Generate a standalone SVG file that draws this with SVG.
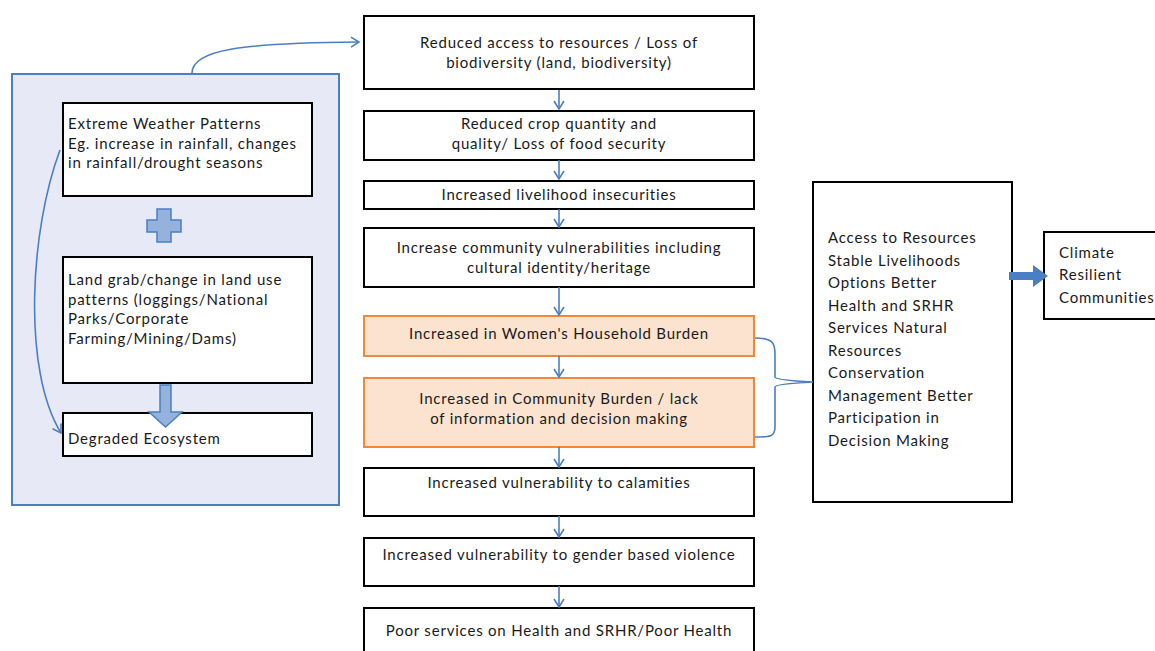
<svg xmlns="http://www.w3.org/2000/svg" width="1155" height="651" viewBox="0 0 1155 651">
<style>
.box{fill:#fff;stroke:#000;stroke-width:2}
.obox{fill:#fce3cf;stroke:#f0883a;stroke-width:2}
.t{font-family:Lato,"Noto Sans",sans-serif;font-size:15px;letter-spacing:0.8px;fill:#1a1a1a}
.c{text-anchor:middle}
.ln{fill:none;stroke:#4a7fc4;stroke-width:1.6}
.blk{fill:#95b1dc;stroke:#4a7fc4;stroke-width:1.5}
</style>
<defs>
<marker id="ah" markerWidth="12" markerHeight="12" refX="10" refY="6" orient="auto" markerUnits="userSpaceOnUse">
<path d="M2,1 L10,6 L2,11" fill="none" stroke="#4a7fc4" stroke-width="1.6"/>
</marker>
</defs>
<rect x="0" y="0" width="1155" height="651" fill="#fff"/>

<g id="container">
<rect x="12" y="74" width="327" height="431" fill="#e7e9f6" stroke="#4a7fc4" stroke-width="2"/>
</g>
<g id="n-weather">
<rect class="box" x="63" y="103" width="249" height="93"/>
<text class="t" x="68" y="129">Extreme Weather Patterns</text>
<text class="t" x="68" y="148.5">Eg. increase in rainfall, changes</text>
<text class="t" x="68" y="168">in rainfall/drought seasons</text>
</g>
<g id="plus">
<path class="blk" d="M157,209 H171 V220 H181 V232 H171 V242 H157 V232 H147 V220 H157 Z"/>
</g>
<g id="n-landgrab">
<rect class="box" x="63" y="257" width="249" height="126"/>
<text class="t" x="68" y="285">Land grab/change in land use</text>
<text class="t" x="68" y="304.5">patterns (loggings/National</text>
<text class="t" x="68" y="324">Parks/Corporate</text>
<text class="t" x="68" y="343.5">Farming/Mining/Dams)</text>
</g>
<g id="n-degraded">
<rect class="box" x="63" y="413" width="249" height="43"/>
<text class="t" x="68" y="444">Degraded Ecosystem</text>
</g>
<g id="blockarrow-down">
<path class="blk" d="M160,385 H171 V412 H182 L165.5,427 L149,412 H160 Z"/>
</g>

<g id="n1"><rect class="box" x="364" y="16" width="390" height="73"/>
<text class="t c" x="559" y="48">Reduced access to resources / Loss of</text>
<text class="t c" x="559" y="68">biodiversity (land, biodiversity)</text></g>
<g id="n2"><rect class="box" x="364" y="111" width="390" height="49"/>
<text class="t c" x="559" y="128.5">Reduced crop quantity and</text>
<text class="t c" x="559" y="149">quality/ Loss of food security</text></g>
<g id="n3"><rect class="box" x="364" y="181" width="390" height="28"/>
<text class="t c" x="559" y="199.5">Increased livelihood insecurities</text></g>
<g id="n4"><rect class="box" x="364" y="228" width="390" height="59"/>
<text class="t c" x="559" y="252.5">Increase community vulnerabilities including</text>
<text class="t c" x="559" y="272.5">cultural identity/heritage</text></g>
<g id="n5"><rect class="obox" x="364" y="316" width="390" height="40"/>
<text class="t c" x="559" y="338.5">Increased in Women's Household Burden</text></g>
<g id="n6"><rect class="obox" x="364" y="378" width="390" height="69"/>
<text class="t c" x="559" y="403.5">Increased in Community Burden / lack</text>
<text class="t c" x="559" y="423.5">of information and decision making</text></g>
<g id="n7"><rect class="box" x="364" y="468" width="390" height="48"/>
<text class="t c" x="559" y="487.5">Increased vulnerability to calamities</text></g>
<g id="n8"><rect class="box" x="364" y="538" width="390" height="48"/>
<text class="t c" x="559" y="560">Increased vulnerability to gender based violence</text></g>
<g id="n9"><rect class="box" x="364" y="608" width="390" height="50"/>
<text class="t c" x="559" y="635.5">Poor services on Health and SRHR/Poor Health</text></g>

<g id="n-outcomes"><rect class="box" x="813" y="182" width="199" height="320"/>
<text class="t" x="828" y="243">Access to Resources</text>
<text class="t" x="828" y="265.5">Stable Livelihoods</text>
<text class="t" x="828" y="288">Options Better</text>
<text class="t" x="828" y="310.5">Health and SRHR</text>
<text class="t" x="828" y="333">Services Natural</text>
<text class="t" x="828" y="355.5">Resources</text>
<text class="t" x="828" y="378">Conservation</text>
<text class="t" x="828" y="400.5">Management Better</text>
<text class="t" x="828" y="423">Participation in</text>
<text class="t" x="828" y="445.5">Decision Making</text></g>
<g id="n-climate"><rect class="box" x="1044" y="232" width="120" height="87"/>
<text class="t" x="1059" y="257.5">Climate</text>
<text class="t" x="1059" y="280">Resilient</text>
<text class="t" x="1059" y="302.5">Communities</text></g>

<g id="connectors">
<path class="ln" marker-end="url(#ah)" d="M559,90 V109"/>
<path class="ln" marker-end="url(#ah)" d="M559,160 V179"/>
<path class="ln" marker-end="url(#ah)" d="M559,209 V227"/>
<path class="ln" marker-end="url(#ah)" d="M559,287 V315"/>
<path class="ln" marker-end="url(#ah)" d="M559,356 V377"/>
<path class="ln" marker-end="url(#ah)" d="M559,447 V467"/>
<path class="ln" marker-end="url(#ah)" d="M559,516 V537"/>
<path class="ln" marker-end="url(#ah)" d="M559,586 V607"/>
<path class="ln" marker-end="url(#ah)" d="M192,73 C192,50 240,43 359,42"/>
<path class="ln" marker-end="url(#ah)" d="M60,150 C30,230 22,370 61,433"/>
<path class="ln" d="M755,338 C775,338 775,345 775,355 V377 Q775,380 813,382 Q775,384 775,387 V427 C775,437 770,437 755,437"/>
<path d="M1009,272 H1033 V265 L1048,276 L1033,287 V280 H1009 Z" fill="#4a7fc4"/>
</g>
</svg>
